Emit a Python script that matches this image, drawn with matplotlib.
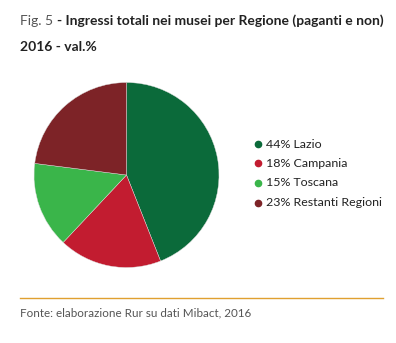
import matplotlib
matplotlib.use("Agg")
import matplotlib.pyplot as plt
from matplotlib.lines import Line2D

regions = ["Lazio", "Campania", "Toscana", "Restanti Regioni"]
values = [44, 18, 15, 23]
colors = ["#0b6a3a", "#c21c30", "#3ab54a", "#7d2327"]

W, H = 396, 343
plt.rcParams['font.family'] = ['Lato', 'DejaVu Sans']
fig = plt.figure(figsize=(W / 100, H / 100), dpi=100)
renderer = fig.canvas.get_renderer()

def px(x, y):
    return x / W, 1 - y / H

def fit(t, target):
    fs = t.get_fontsize()
    for _ in range(4):
        w = t.get_window_extent(renderer=renderer).width
        fs = fs * target / w
        t.set_fontsize(fs)
    return fs

# pie
cx, cy, r = 126.5, 175, 92.5
ax = fig.add_axes([(cx - r) / W, (H - cy - r) / H, 2 * r / W, 2 * r / H])
ax.pie(values, colors=colors, startangle=90, counterclock=False,
       wedgeprops=dict(edgecolor="#dddddd", linewidth=0.3))
ax.set_aspect("equal")
ax.set_xlim(-1, 1)
ax.set_ylim(-1, 1)
ax.axis("off")

# title: fit full width first
probe = fig.text(0, 0, "Fig. 5 - Ingressi totali nei musei per Regione (paganti e non)",
                 fontsize=11, fontweight="bold")
tfs = fit(probe, 363)
probe.remove()
t1 = fig.text(*px(20, 21), "Fig. 5 ", fontsize=tfs, color="#555555", va="center", ha="left")
x2 = t1.get_window_extent(renderer=renderer).x1 / W
fig.text(x2, 1 - 21 / H, "- Ingressi totali nei musei per Regione (paganti e non)",
         fontsize=tfs, color="#222222", fontweight="bold", va="center", ha="left")
fig.text(*px(20, 47), "2016 - val.%", fontsize=tfs, color="#222222",
         fontweight="bold", va="center", ha="left")

# legend
probe = fig.text(0, 0, "23% Restanti Regioni", fontsize=9)
lfs = fit(probe, 116)
probe.remove()
ys = [144, 163, 183, 203]
for reg, v, c, y in zip(regions, values, colors, ys):
    fig.add_artist(Line2D([258 / W], [1 - y / H], marker="o", markersize=4.5,
                          color=c, transform=fig.transFigure))
    fig.text(*px(266, y), f"{v}% {reg}", fontsize=lfs, color="#222222",
             va="center", ha="left")

# source line
fig.add_artist(Line2D([20 / W, 383 / W], [1 - 298 / H, 1 - 298 / H],
                      color="#e0a030", linewidth=1.0, transform=fig.transFigure))
src = fig.text(*px(20, 313), "Fonte: elaborazione Rur su dati Mibact, 2016",
               fontsize=9, color="#555555", va="center", ha="left")
fit(src, 230)

fig.savefig("out.png", dpi=100)
